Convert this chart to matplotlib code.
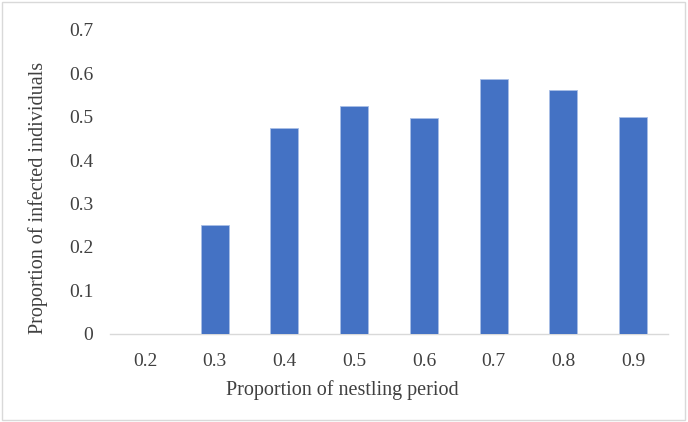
import matplotlib
matplotlib.use("Agg")
import matplotlib.pyplot as plt
from matplotlib.patches import Rectangle

categories = ["0.2", "0.3", "0.4", "0.5", "0.6", "0.7", "0.8", "0.9"]
infected = [0.0, 0.25, 0.475, 0.525, 0.498, 0.588, 0.5625, 0.5]
y_ticks = [0, 0.1, 0.2, 0.3, 0.4, 0.5, 0.6, 0.7]
y_tick_labels = ["0", "0.1", "0.2", "0.3", "0.4", "0.5", "0.6", "0.7"]

plt.rcParams["font.family"] = ["Liberation Serif", "DejaVu Serif"]

fig = plt.figure(figsize=(6.88, 4.22), dpi=100)
ax = fig.add_axes([0.160, 0.209, 0.811, 0.720])

x = range(len(categories))
ax.bar(x, infected, width=0.4, color="#4472C4", edgecolor="#A9BFE6", linewidth=0.6, zorder=3)

ax.set_xlim(-0.5, len(categories) - 0.5)
ax.set_ylim(0, 0.7)
ax.set_xticks(list(x))
ax.set_xticklabels(categories)
ax.set_yticks(y_ticks)
ax.set_yticklabels(y_tick_labels)
ax.tick_params(axis="both", length=0, labelsize=14, colors="#404040")
ax.tick_params(axis="x", pad=14)
ax.tick_params(axis="y", pad=12)

for side in ["top", "right", "left"]:
    ax.spines[side].set_visible(False)
ax.spines["bottom"].set_color("#D9D9D9")
ax.spines["bottom"].set_linewidth(1.0)

fig.text(0.056, 0.531, "Proportion of infected individuals", fontsize=14.5, color="#404040",
         rotation=90, ha="center", va="center")
fig.text(0.497, 0.075, "Proportion of nestling period", fontsize=14.5, color="#404040",
         ha="center", va="center")

# light frame around the whole chart
fig.patches.append(Rectangle((0.003, 0.004), 0.993, 0.991, transform=fig.transFigure,
                             fill=False, edgecolor="#D9D9D9", linewidth=1.0))

fig.savefig("out.png", dpi=100)
